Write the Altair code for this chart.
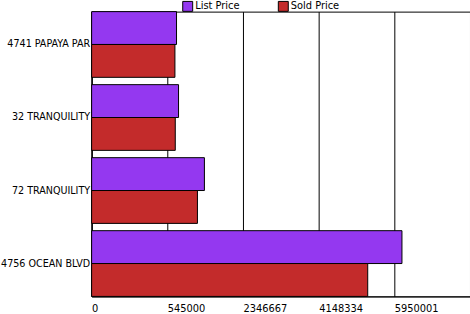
import altair as alt
import pandas as pd

properties = ["4741 PAPAYA PAR", "32 TRANQUILITY", "72 TRANQUILITY", "4756 OCEAN BLVD"]
list_price = [765000, 813000, 1429000, 6132000]
sold_price = [727000, 735000, 1263000, 5317000]
series = ["List Price", "Sold Price"]
tick_values = [-1256667, 545000, 2346667, 4148334, 5950001]
axis_min = -1256667
axis_max = 7751668

rows = []
for p, lp, sp in zip(properties, list_price, sold_price):
    rows.append({"Property": p, "Series": "List Price", "Price": lp, "Base": axis_min})
    rows.append({"Property": p, "Series": "Sold Price", "Price": sp, "Base": axis_min})
df = pd.DataFrame(rows)

FONT = "DejaVu Sans Condensed"

chart = alt.Chart(df).mark_bar(stroke="black", strokeWidth=1).encode(
    x=alt.X("Price:Q",
            scale=alt.Scale(domain=[axis_min, axis_max], nice=False, zero=False),
            axis=alt.Axis(values=tick_values, title=None, grid=True, gridColor="black",
                          gridOpacity=1, gridWidth=1, ticks=False, domainColor="black",
                          labelAlign="left", labelPadding=6, labelFont=FONT,
                          labelFontSize=11, labelColor="black", format="d",
                          labelExpr="datum.index == 0 ? '0' : datum.label", labelFlush=False,
                          labelOverlap=False)),
    x2="Base:Q",
    y=alt.Y("Property:N", sort=properties,
            scale=alt.Scale(paddingInner=0.1, paddingOuter=0),
            axis=alt.Axis(title=None, ticks=False, domainColor="black", labelPadding=2,
                          labelFont=FONT, labelFontSize=10.7, labelColor="black",
                          labelLimit=200)),
    yOffset=alt.YOffset("Series:N", sort=series, scale=alt.Scale(paddingInner=0, paddingOuter=0)),
    color=alt.Color("Series:N", sort=series,
                    scale=alt.Scale(domain=series, range=["#9438F0", "#C32B2B"]),
                    legend=alt.Legend(title=None, orient="none", legendX=91, legendY=-11,
                                      direction="horizontal", symbolType="square",
                                      symbolSize=100, symbolStrokeColor="black",
                                      symbolStrokeWidth=1, symbolOpacity=1, labelFont=FONT,
                                      labelFontSize=11, labelColor="black", labelOffset=2,
                                      columnPadding=36)),
).properties(
    width=380, height=286,
    autosize=alt.AutoSizeParams(type="none"),
    padding={"left": 92, "top": 11, "right": 0, "bottom": 17},
).configure_view(stroke="black", strokeWidth=1)

chart.save("out.html", embed_options={"renderer": "svg", "actions": False})
